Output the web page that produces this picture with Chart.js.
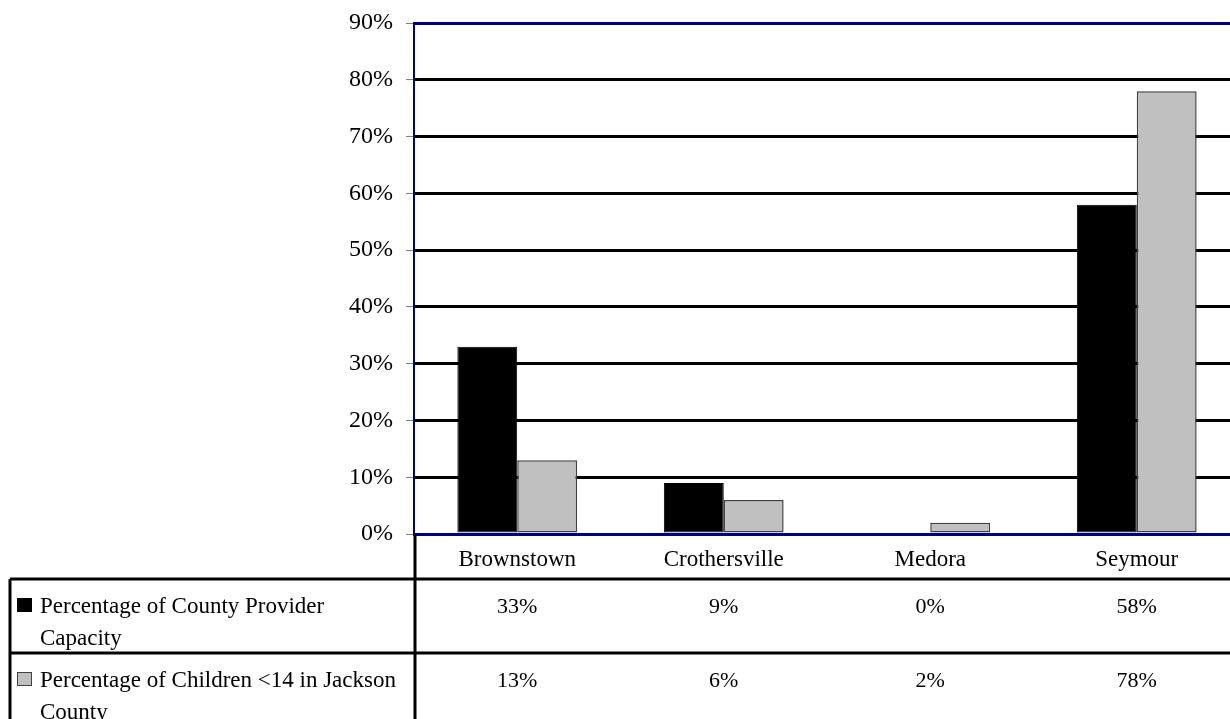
<!DOCTYPE html>
<html>
<head>
<meta charset="utf-8">
<title>Jackson County provider capacity</title>
<script src="https://cdn.jsdelivr.net/npm/chart.js@4/dist/chart.umd.min.js"></script>
<style>
  html, body { margin: 0; padding: 0; background: #fff; overflow: hidden; }
  #wrap { width: 1240px; height: 719px; }
</style>
</head>
<body>
<div id="wrap"><canvas id="chart" width="1240" height="719"></canvas></div>
<script>
// towns in Jackson County
const towns = ['Brownstown', 'Crothersville', 'Medora', 'Seymour'];
// share of county provider capacity, percent
const capacityPct = [33, 9, 0, 58];
// share of children under 14, percent
const childrenPct = [13, 6, 2, 78];
const seriesNames = [
  'Percentage of County Provider Capacity',
  'Percentage of Children <14 in Jackson County'
];
const yTicks = [0, 10, 20, 30, 40, 50, 60, 70, 80, 90];

const NAVY = '#000080';
const SERIF = '"Liberation Serif", "Times New Roman", serif';

// wrap a label into lines that fit maxWidth
function wrapText(ctx, text, maxWidth) {
  const words = text.split(' ');
  const lines = [];
  let line = '';
  words.forEach(w => {
    const test = line ? line + ' ' + w : w;
    if (ctx.measureText(test).width > maxWidth && line) {
      lines.push(line);
      line = w;
    } else {
      line = test;
    }
  });
  if (line) lines.push(line);
  return lines;
}

// data table under the plot, Excel style
const dataTable = {
  id: 'dataTable',
  afterDraw(chart) {
    const ctx = chart.ctx;
    const x = chart.scales.x;
    const area = chart.chartArea;
    const right = chart.width;
    const rowTop = [579, 653];
    const series = [
      { name: seriesNames[0], values: capacityPct, fill: '#000000', stroke: '#000000' },
      { name: seriesNames[1], values: childrenPct, fill: '#C0C0C0', stroke: '#404040' }
    ];

    ctx.save();
    ctx.strokeStyle = '#000';
    ctx.lineWidth = 3;
    ctx.beginPath();
    rowTop.forEach(y => { ctx.moveTo(10, y); ctx.lineTo(right, y); });
    ctx.moveTo(10, rowTop[0]); ctx.lineTo(10, chart.height);
    ctx.moveTo(415, area.bottom + 1); ctx.lineTo(415, chart.height);
    ctx.stroke();

    series.forEach((s, r) => {
      const top = rowTop[r];
      // legend key
      ctx.fillStyle = s.fill;
      ctx.fillRect(17, top + 19, 15, 14);
      ctx.strokeStyle = s.stroke;
      ctx.lineWidth = 1;
      ctx.strokeRect(17.5, top + 19.5, 14, 13);

      ctx.fillStyle = '#000';
      ctx.font = '23px ' + SERIF;
      ctx.textAlign = 'left';
      ctx.textBaseline = 'alphabetic';
      wrapText(ctx, s.name, 366).forEach((ln, i) => {
        ctx.fillText(ln, 40, top + 34 + i * 32);
      });

      ctx.font = '22px ' + SERIF;
      ctx.textAlign = 'center';
      s.values.forEach((v, i) => {
        ctx.fillText(v + '%', x.getPixelForValue(i), top + 34);
      });
    });
    ctx.restore();
  }
};

new Chart(document.getElementById('chart'), {
  type: 'bar',
  data: {
    labels: towns,
    datasets: [
      {
        label: seriesNames[0],
        data: capacityPct,
        backgroundColor: '#000000',
        borderColor: '#000000',
        borderWidth: 1,
        borderSkipped: false
      },
      {
        label: seriesNames[1],
        data: childrenPct,
        backgroundColor: '#C0C0C0',
        borderColor: '#404040',
        borderWidth: 1.5,
        borderSkipped: false
      }
    ]
  },
  options: {
    responsive: false,
    animation: false,
    devicePixelRatio: 1,
    layout: { padding: { top: 23, bottom: 140, left: 0, right: 0 } },
    datasets: { bar: { categoryPercentage: 0.58, barPercentage: 1 } },
    plugins: {
      legend: { display: false },
      tooltip: { enabled: false }
    },
    scales: {
      x: {
        afterFit(scale) { scale.height = 45; scale.paddingLeft = 0; scale.paddingRight = 0; },
        grid: { display: false, drawTicks: false },
        border: { display: true, color: NAVY, width: 3 },
        ticks: {
          color: '#000',
          padding: 12,
          font: { family: SERIF, size: 23 }
        }
      },
      y: {
        min: 0,
        max: 90,
        afterFit(scale) { scale.width = 414; scale.paddingTop = 0; scale.paddingBottom = 0; },
        afterBuildTicks(scale) { scale.ticks = yTicks.map(v => ({ value: v })); },
        grid: {
          color: c => (c.tick && (c.tick.value === 90 || c.tick.value === 0)) ? NAVY : '#000000',
          lineWidth: 3,
          tickLength: 8,
          tickColor: '#808080',
          tickWidth: 1
        },
        border: { display: true, color: NAVY, width: 2 },
        ticks: {
          color: '#000',
          padding: 13,
          font: { family: SERIF, size: 24 },
          callback: v => v + '%'
        }
      }
    }
  },
  plugins: [dataTable]
});
</script>
</body>
</html>
